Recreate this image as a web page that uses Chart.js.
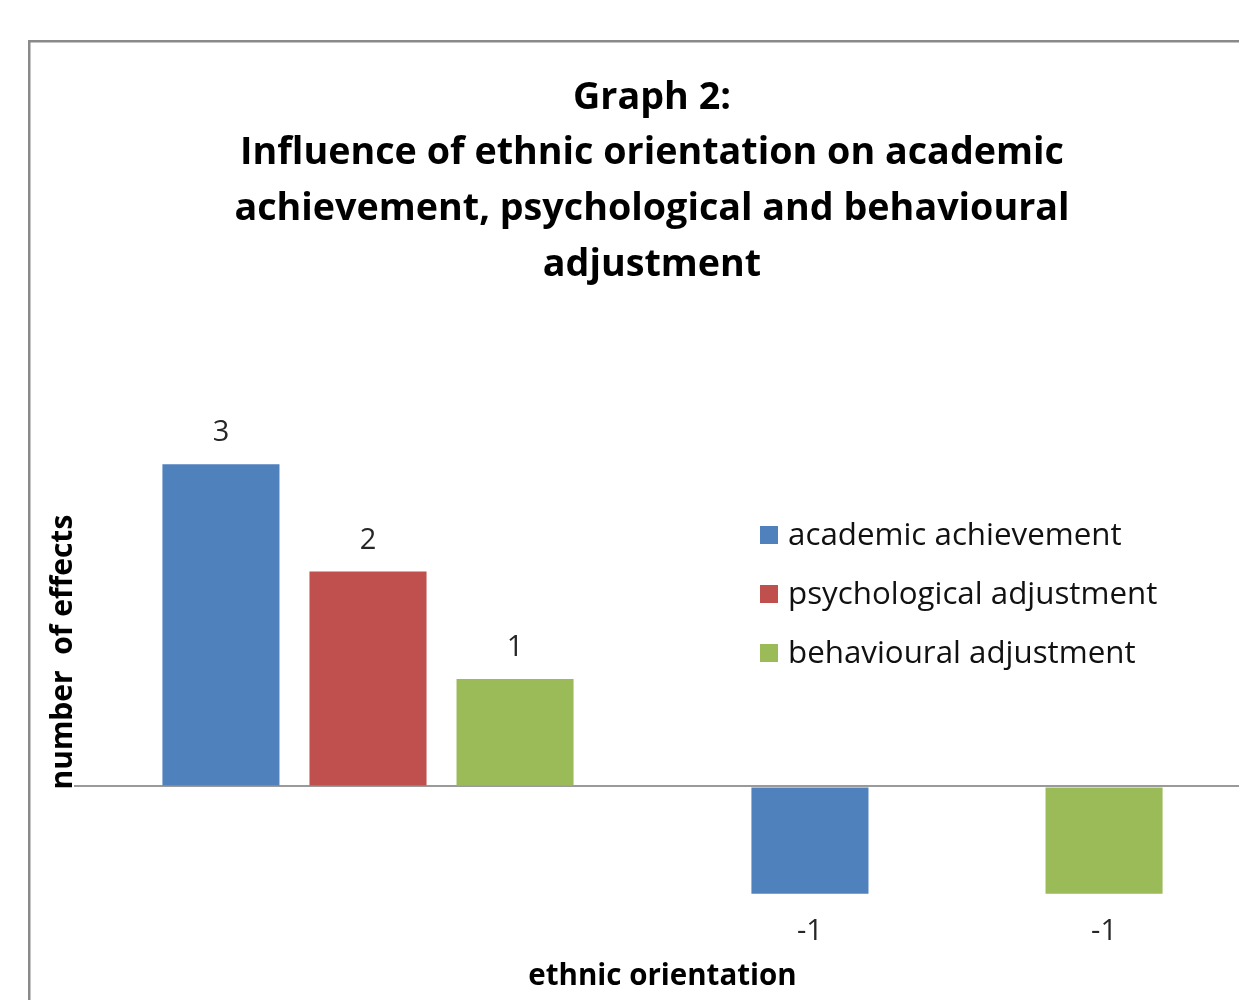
<!DOCTYPE html>
<html>
<head>
<meta charset="utf-8">
<script src="https://cdn.jsdelivr.net/npm/chart.js@4"></script>
<style>
  html, body { margin: 0; padding: 0; overflow: hidden; background: #fff; }
  #wrap { position: absolute; left: 0; top: 0; width: 1300px; height: 1000px; }
</style>
</head>
<body>
<div id="wrap"><canvas id="c" width="1300" height="1000"></canvas></div>
<script>
// ---- data ----
const categories = ["group 1", "group 2"];
const seriesNames = ["academic achievement", "psychological adjustment", "behavioural adjustment"];
const academic = [3, -1];
const psychological = [2, null];
const behavioural = [1, -1];
const seriesColors = ["#4F81BD", "#C0504D", "#9BBB59"];
const titleLines = ["Graph 2:", "Influence of ethnic orientation on academic", "achievement, psychological and behavioural", "adjustment"];
const xTitle = "ethnic orientation";
const yTitle = "number  of effects";

const FONT = "'Open Sans', 'Liberation Sans', sans-serif";

const framePlugin = {
  id: 'frame',
  beforeDraw(chart) {
    const ctx = chart.ctx;
    ctx.save();
    ctx.fillStyle = '#fff';
    ctx.fillRect(0, 0, chart.width, chart.height);
    ctx.strokeStyle = '#8a8a8a';
    ctx.lineWidth = 2.5;
    ctx.strokeRect(29.25, 41.25, 1246, 1100);
    ctx.restore();
  }
};

const labelPlugin = {
  id: 'valueLabels',
  afterDatasetsDraw(chart) {
    const ctx = chart.ctx;
    ctx.save();
    ctx.font = "29px " + FONT;
    ctx.fillStyle = '#262626';
    ctx.textAlign = 'center';
    ctx.textBaseline = 'middle';
    chart.data.datasets.forEach((ds, i) => {
      const meta = chart.getDatasetMeta(i);
      meta.data.forEach((bar, j) => {
        const v = ds.data[j];
        if (v === null || v === undefined) return;
        const y = v >= 0 ? bar.y - 31 : bar.y + 38;
        ctx.fillText(String(v), bar.x, y);
      });
    });
    ctx.restore();
  }
};

const legendPlugin = {
  id: 'innerLegend',
  afterDraw(chart) {
    const ctx = chart.ctx;
    ctx.save();
    ctx.font = "31.3px " + FONT;
    ctx.textBaseline = 'middle';
    ctx.textAlign = 'left';
    chart.data.datasets.forEach((ds, i) => {
      const cy = 535 + i * 59;
      ctx.fillStyle = ds.backgroundColor;
      ctx.fillRect(760, cy - 9, 18, 18);
      ctx.fillStyle = '#111';
      ctx.fillText(ds.label, 788, cy + 1);
    });
    ctx.restore();
  }
};

new Chart(document.getElementById('c'), {
  type: 'bar',
  data: {
    labels: categories,
    datasets: [
      { label: seriesNames[0], data: academic, backgroundColor: seriesColors[0] },
      { label: seriesNames[1], data: psychological, backgroundColor: seriesColors[1] },
      { label: seriesNames[2], data: behavioural, backgroundColor: seriesColors[2] }
    ]
  },
  options: {
    responsive: false,
    animation: false,
    devicePixelRatio: 1,
    categoryPercentage: 0.749,
    barPercentage: 0.796,
    layout: { padding: { left: 52.5, right: 48.5, top: 0, bottom: 0 } },
    plugins: {
      legend: { display: false },
      tooltip: { enabled: false },
      title: {
        display: true,
        text: titleLines,
        color: '#000',
        font: { family: FONT, size: 37.7, weight: '700', lineHeight: 1.477 },
        padding: { top: 70, bottom: 64 }
      }
    },
    scales: {
      x: {
        ticks: { display: false },
        grid: { display: false, drawTicks: false },
        border: { display: false },
        title: {
          display: true, text: xTitle, color: '#000',
          font: { family: FONT, size: 29.5, weight: '700', lineHeight: 1.61 },
          padding: { top: 5, bottom: 0 }
        }
      },
      y: {
        min: -1.5, max: 4,
        ticks: { display: false, stepSize: 1 },
        grid: {
          drawTicks: false,
          lineWidth: 2,
          color: (c) => (c.tick && c.tick.value === 0) ? '#9a9a9a' : 'rgba(0,0,0,0)'
        },
        border: { display: false },
        title: {
          display: true, text: yTitle, color: '#000',
          font: { family: FONT, size: 30, weight: '700', lineHeight: 0.7 },
          padding: 0
        }
      }
    }
  },
  plugins: [framePlugin, labelPlugin, legendPlugin]
});
</script>
</body>
</html>
